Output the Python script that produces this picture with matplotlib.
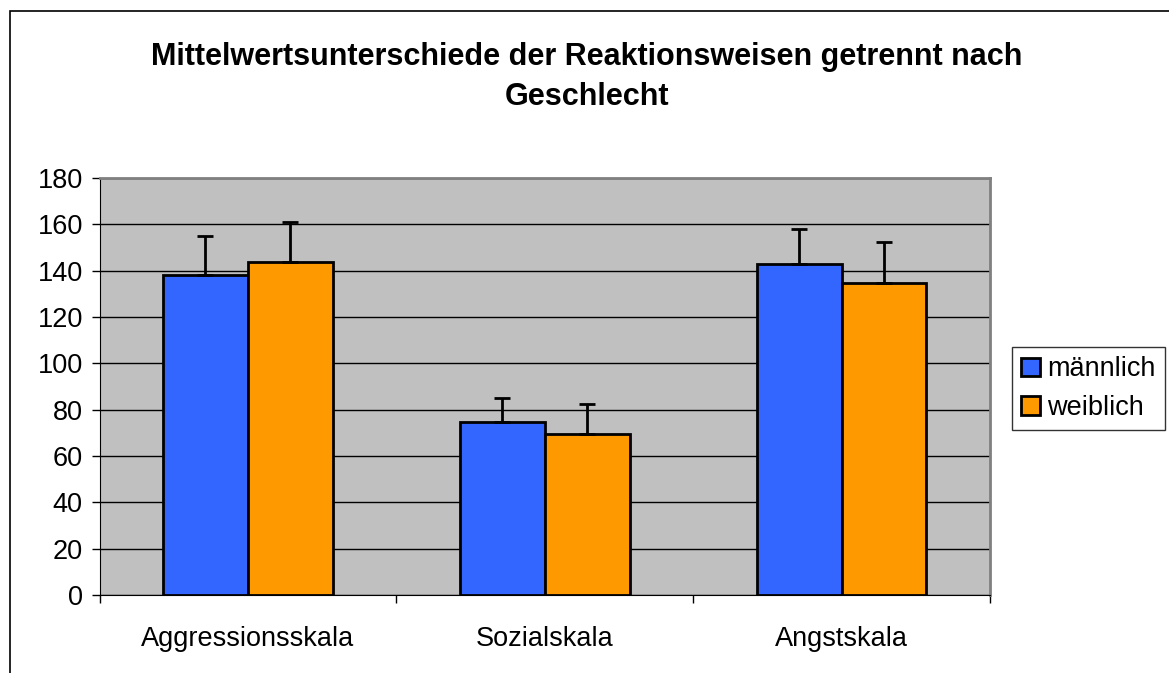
import matplotlib
matplotlib.use("Agg")
import matplotlib.pyplot as plt
import numpy as np
from matplotlib.patches import Rectangle

categories = ["Aggressionsskala", "Sozialskala", "Angstskala"]
series_names = ["männlich", "weiblich"]
male_means = [138.2, 74.8, 143.0]
female_means = [143.8, 69.6, 134.8]
male_err = [16.6, 10.2, 14.8]
female_err = [17.2, 12.8, 17.4]
yticks = [0, 20, 40, 60, 80, 100, 120, 140, 160, 180]

W, H = 1169, 673
plt.rcParams['font.family'] = ['Liberation Sans', 'DejaVu Sans']
fig = plt.figure(figsize=(W / 100, H / 100), dpi=100)

# outer chart border
fig.add_artist(Rectangle((10 / W, -0.05), 1.2, (H - 11) / H + 0.05,
                         transform=fig.transFigure, fill=False,
                         edgecolor='black', linewidth=1.2))

left, right, top, bottom = 99.5, 990, 178, 595
ax = fig.add_axes([left / W, (H - bottom) / H, (right - left) / W, (bottom - top) / H])
ax.set_facecolor('#C0C0C0')

x = np.arange(len(categories))
bw = 0.286
ekw = dict(ecolor='black', elinewidth=2, capsize=6, capthick=2)
ax.bar(x - bw / 2, male_means, bw, color='#3366FF', edgecolor='black', linewidth=2,
       label=series_names[0], zorder=3,
       yerr=[np.zeros(len(male_err)), male_err], error_kw=ekw)
ax.bar(x + bw / 2, female_means, bw, color='#FF9900', edgecolor='black', linewidth=2,
       label=series_names[1], zorder=3,
       yerr=[np.zeros(len(female_err)), female_err], error_kw=ekw)

ax.set_xlim(-0.5, len(categories) - 0.5)
ax.set_ylim(0, 180)
ax.set_yticks(yticks)
ax.set_yticklabels([str(v) for v in yticks], fontsize=19.5)
ax.yaxis.grid(True, color='black', linewidth=1, zorder=1)
ax.set_axisbelow(True)

ax.set_xticks(x)
ax.set_xticklabels(categories, fontsize=19.5)
ax.tick_params(axis='x', length=0, pad=22)
ax.set_xticks(np.arange(len(categories) + 1) - 0.5, minor=True)
ax.tick_params(axis='x', which='minor', length=6, width=1, direction='out')
ax.tick_params(axis='y', length=6, width=1, direction='out', pad=6)

for s in ['top', 'right']:
    ax.spines[s].set_color('#808080')
    ax.spines[s].set_linewidth(2)
ax.spines['left'].set_color('black')
ax.spines['bottom'].set_color('black')

fig.text(587 / W, 1 - 57 / H, "Mittelwertsunterschiede der Reaktionsweisen getrennt nach",
         ha='center', va='center', fontsize=22, fontweight='bold')
fig.text(587 / W, 1 - 97 / H, "Geschlecht",
         ha='center', va='center', fontsize=22, fontweight='bold')

leg = fig.legend(loc='upper left', bbox_to_anchor=(1012 / W, 1 - 347 / H),
                 fontsize=19.5, frameon=True, fancybox=False, edgecolor='black',
                 handlelength=0.7, handleheight=0.7, handletextpad=0.25,
                 borderpad=0.35, labelspacing=0.45, borderaxespad=0)
leg.get_frame().set_linewidth(1)

fig.savefig('out.png', dpi=100)
